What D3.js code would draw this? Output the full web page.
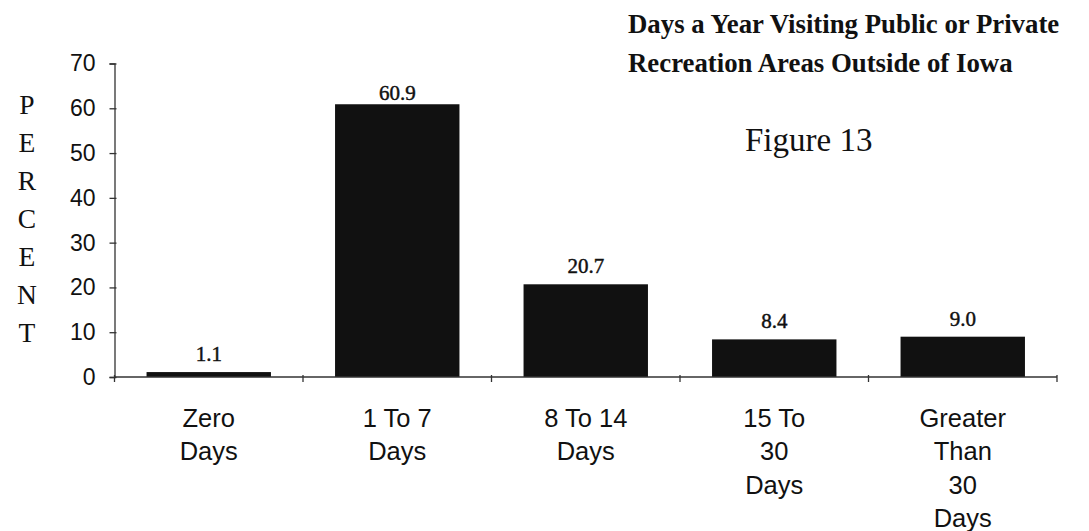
<!DOCTYPE html>
<html>
<head>
<meta charset="utf-8">
<script src="https://cdn.jsdelivr.net/npm/d3@7/dist/d3.min.js"></script>
<style>
  html, body { margin: 0; padding: 0; background: #fff; }
  svg { display: block; }
</style>
</head>
<body>
<svg id="chart" width="1089" height="531"></svg>
<script>
// Share of respondents by days per year spent at recreation areas outside Iowa
const categories = [
  ["Zero", "Days"],
  ["1 To 7", "Days"],
  ["8 To 14", "Days"],
  ["15 To", "30", "Days"],
  ["Greater", "Than", "30", "Days"]
];
const percents = [1.1, 60.9, 20.7, 8.4, 9.0];
const yTicks = [0, 10, 20, 30, 40, 50, 60, 70];
const titleLines = ["Days a Year Visiting Public or Private", "Recreation Areas Outside of Iowa"];
const figureLabel = "Figure 13";
const axisTitle = "PERCENT";

const svg = d3.select("#chart");
const plot = { left: 114.5, right: 1057, top: 63.5, bottom: 377 };
const ink = "#111";

const x = d3.scaleBand()
  .domain(d3.range(categories.length))
  .range([plot.left, plot.right])
  .paddingInner(0.34)
  .paddingOuter(0.17);

const y = d3.scaleLinear().domain([0, 70]).range([plot.bottom, plot.top]);

// Bars
svg.append("g").selectAll("rect")
  .data(percents)
  .join("rect")
  .attr("x", (d, i) => x(i))
  .attr("y", d => y(d))
  .attr("width", x.bandwidth())
  .attr("height", d => y(0) - y(d))
  .attr("fill", ink);

// Value labels above bars (kept below the top of the plot area)
svg.append("g").selectAll("text")
  .data(percents)
  .join("text")
  .attr("x", (d, i) => x(i) + x.bandwidth() / 2)
  .attr("y", d => Math.max(y(d) - 11, plot.top + 36))
  .attr("text-anchor", "middle")
  .attr("font-family", "'Liberation Serif', 'Times New Roman', serif")
  .attr("font-size", 21)
  .attr("fill", ink)
  .attr("stroke", ink)
  .attr("stroke-width", 0.45)
  .text(d => d.toFixed(1));

// Y axis
const yAxis = d3.axisLeft(y).tickValues(yTicks).tickSize(5).tickPadding(14);
const gy = svg.append("g").attr("transform", `translate(${plot.left},0)`).call(yAxis);
gy.select(".domain").attr("stroke", "#333").attr("stroke-width", 1.3);
gy.selectAll(".tick line").attr("stroke", "#333").attr("stroke-width", 1.3).attr("x2", -5).attr("x1", 2);
gy.selectAll(".tick text")
  .attr("font-family", "'Liberation Sans', Arial, sans-serif")
  .attr("font-size", 23)
  .attr("fill", ink);

// X axis line with cross ticks at category boundaries
const boundaries = d3.range(categories.length + 1).map(i => plot.left + i * x.step());
const gx = svg.append("g");
gx.append("line")
  .attr("x1", plot.left).attr("x2", plot.right)
  .attr("y1", y(0)).attr("y2", y(0))
  .attr("stroke", "#333").attr("stroke-width", 1.3);
gx.selectAll("line.tick")
  .data(boundaries)
  .join("line")
  .attr("class", "tick")
  .attr("x1", d => d).attr("x2", d => d)
  .attr("y1", y(0) - 2).attr("y2", y(0) + 5)
  .attr("stroke", "#333").attr("stroke-width", 1.3);

// Category labels, one line per text row
const catG = svg.append("g")
  .attr("font-family", "'Liberation Sans', Arial, sans-serif")
  .attr("font-size", 25.5)
  .attr("fill", ink)
  .attr("text-anchor", "middle");
categories.forEach((lines, i) => {
  const cx = x(i) + x.bandwidth() / 2;
  const t = catG.append("text").attr("x", cx);
  lines.forEach((ln, k) => {
    t.append("tspan")
      .attr("x", cx)
      .attr("y", 427 + k * 33.3)
      .text(ln);
  });
});

// Vertical stacked axis title
svg.append("g")
  .attr("font-family", "'Liberation Serif', 'Times New Roman', serif")
  .attr("font-size", 27.5)
  .attr("fill", ink)
  .attr("text-anchor", "middle")
  .selectAll("text")
  .data(axisTitle.split(""))
  .join("text")
  .attr("x", 27)
  .attr("y", (d, i) => 114 + i * 37.95)
  .text(d => d);

// Title
svg.append("g")
  .attr("font-family", "'Liberation Serif', 'Times New Roman', serif")
  .attr("font-weight", "bold")
  .attr("font-size", 26.8)
  .attr("fill", ink)
  .selectAll("text")
  .data(titleLines)
  .join("text")
  .attr("x", 628)
  .attr("y", (d, i) => 33 + i * 39)
  .text(d => d);

svg.append("text")
  .attr("x", 745)
  .attr("y", 151)
  .attr("font-family", "'Liberation Serif', 'Times New Roman', serif")
  .attr("font-size", 33)
  .attr("fill", ink)
  .text(figureLabel);
</script>
</body>
</html>
